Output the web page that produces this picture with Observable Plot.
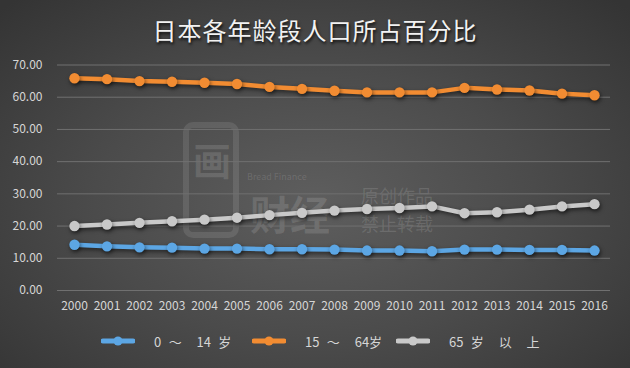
<!DOCTYPE html>
<html>
<head>
<meta charset="utf-8">
<script src="https://cdn.jsdelivr.net/npm/d3@7"></script>
<script src="https://cdn.jsdelivr.net/npm/@observablehq/plot@0.6"></script>
<style>
  html, body { margin: 0; padding: 0; }
  body { width: 630px; height: 368px; overflow: hidden; }
  #wrap {
    position: relative; width: 630px; height: 368px;
    background: radial-gradient(ellipse 70% 75% at 50% 55%, #5e5e5e 0%, #4b4b4b 50%, #343434 100%);
    font-family: "Noto Sans CJK SC", "Noto Sans", sans-serif;
  }
  #title {
    position: absolute; left: 0; width: 630px; top: 12px; text-align: center;
    font-size: 24px; color: #f2f2f2; letter-spacing: 1px;
    text-shadow: 1px 2px 3px rgba(0,0,0,0.8);
  }
  #chart { position: absolute; left: 0; top: 0; }
  .wm { position: absolute; color: rgba(255,255,255,0.13); white-space: nowrap; line-height: 1; }
  #legend { position: absolute; top: 331px; left: 0; width: 630px; height: 20px; font-size: 13px; color: #d6d6d6; }
  .lg { position: absolute; top: 0; display: flex; align-items: center; height: 20px; white-space: pre; word-spacing: 4.5px; }
  .lg svg { margin-right: 19px; }
</style>
</head>
<body>
<div id="wrap">
  <div class="wm" style="left:183px;top:122px;width:56px;height:116px;border:6px solid rgba(255,255,255,0.10);border-radius:10px;box-sizing:border-box;"></div>
  <div class="wm" style="left:193px;top:140px;font-size:38px;font-weight:bold;">画</div>
  <div class="wm" style="left:247px;top:172px;font-size:9px;">Bread Finance</div>
  <div class="wm" style="left:250px;top:193px;font-size:40px;font-weight:bold;">财经</div>
  <div class="wm" style="left:361px;top:186px;font-size:18px;">原创作品</div>
  <div class="wm" style="left:361px;top:214px;font-size:18px;">禁止转载</div>
  <div id="chart"></div>
  <div id="title">日本各年龄段人口所占百分比</div>
  <div id="legend"></div>
</div>
<script>
const years = [2000,2001,2002,2003,2004,2005,2006,2007,2008,2009,2010,2011,2012,2013,2014,2015,2016];
const young   = [14.2,13.7,13.4,13.3,13.0,13.0,12.8,12.8,12.7,12.4,12.4,12.2,12.7,12.7,12.6,12.6,12.4];
const working = [65.9,65.6,65.0,64.8,64.5,64.1,63.2,62.6,62.0,61.5,61.5,61.5,62.9,62.4,62.1,61.1,60.6];
const elderly = [20.0,20.5,21.0,21.5,22.0,22.6,23.4,24.1,24.8,25.3,25.6,26.1,24.0,24.3,25.1,26.1,26.8];
const seriesNames = ["0 ～  14 岁", "15 ～  64岁", "65 岁  以  上"];
const seriesColors = ["#5ca6e4", "#f28c32", "#c9c9c9"];
const yTicks = [0,10,20,30,40,50,60,70];

const seriesValues = [young, working, elderly];
const data = [];
seriesValues.forEach((vals, si) => {
  vals.forEach((v, i) => data.push({year: years[i], value: v, series: seriesNames[si]}));
});

const chart = Plot.plot({
  width: 630,
  height: 330,
  marginTop: 64.5,
  marginBottom: 40,
  marginLeft: 57,
  marginRight: 20,
  style: {background: "transparent", fontFamily: "'Noto Sans CJK SC', 'Noto Sans', sans-serif", fontSize: "12px", color: "#d6d6d6", overflow: "visible"},
  x: {domain: [1999.477, 2016.492]},
  y: {domain: [0, 70]},
  color: {domain: seriesNames, range: seriesColors},
  marks: [
    Plot.ruleY(yTicks, {stroke: "#707070", strokeWidth: 1}),
    Plot.axisY({ticks: yTicks, tickFormat: d3.format(".2f"), tickSize: 0, tickPadding: 15, label: null, fill: "#d6d6d6", fontSize: 12}),
    Plot.axisX({ticks: years, tickFormat: d => String(d), tickSize: 0, tickPadding: 11, label: null, fill: "#d6d6d6", fontSize: 12}),
    Plot.line(data, {x: "year", y: "value", z: "series", stroke: "series", strokeWidth: 4.5, strokeLinejoin: "round", strokeLinecap: "round"}),
    Plot.dot(data, {x: "year", y: "value", fill: "series", r: 5.2, stroke: null})
  ]
});
document.getElementById("chart").appendChild(chart);
d3.select(chart).selectAll("g[aria-label=line], g[aria-label=dot]")
  .style("filter", "drop-shadow(1px 2px 2px rgba(0,0,0,0.55))");

// legend
const legend = d3.select("#legend");
const lgPos = [101, 252, 396];
seriesNames.forEach((name, i) => {
  const item = legend.append("div").attr("class", "lg").style("left", lgPos[i] + "px");
  const s = item.append("svg").attr("width", 34).attr("height", 20);
  s.append("line").attr("x1", 2).attr("x2", 32).attr("y1", 10).attr("y2", 10)
    .attr("stroke", seriesColors[i]).attr("stroke-width", 5).attr("stroke-linecap", "round");
  s.append("circle").attr("cx", 17).attr("cy", 10).attr("r", 4.5).attr("fill", seriesColors[i]);
  item.append("span").text(name);
});
</script>
</body>
</html>
